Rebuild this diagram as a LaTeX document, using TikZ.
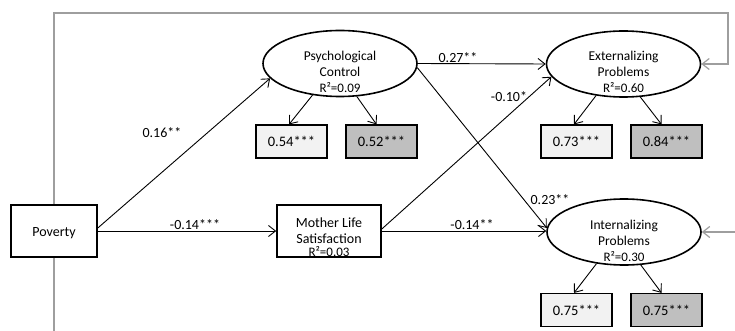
\documentclass[tikz,border=0pt]{standalone}
\usepackage{fontspec}
\setmainfont{Carlito}
\usetikzlibrary{arrows.meta,shapes.geometric,backgrounds}
\begin{document}
\begin{tikzpicture}[x=1pt,y=-1pt,
  lat/.style={ellipse,draw,line width=1.6pt,minimum width=154pt,minimum height=66pt,inner sep=0pt,fill=white},
  obs/.style={rectangle,draw,line width=1.6pt,minimum height=52pt,inner sep=0pt,fill=white},
  ind/.style={rectangle,draw,line width=1.2pt,minimum width=71pt,minimum height=33pt,inner sep=0pt,font=\fontsize{14.5}{16}\selectfont},
  lightind/.style={ind,fill=black!5},
  darkind/.style={ind,fill=black!25},
  tip/.style={-{Straight Barb[length=7pt,width=11pt]}},
  arr/.style={draw,line width=0.9pt,tip},
  coef/.style={font=\fontsize{14}{16}\selectfont,inner sep=0pt},
  ltxt/.style={font=\fontsize{13.5}{15}\selectfont,inner sep=0pt,anchor=base},
  rtxt/.style={font=\fontsize{13}{14}\selectfont,inner sep=0pt,anchor=base},
  grayframe/.style={draw=black!38,line width=1.2pt},
]
\useasboundingbox (0,0) rectangle (735,331);

% observed variables
\node[obs,minimum width=86pt] (pov) at (54,231) {};
\node[coef,anchor=base] (povt) at (54,236) {Poverty};
\node[obs,minimum width=104pt] (mls) at (329,231) {};
\node[coef,anchor=base] (mlst1) at (329,227) {Mother Life};
\node[coef,anchor=base] (mlst2) at (329,243) {Satisfaction};
\node[rtxt] (mlst3) at (329,256) {R²=0.03};

% latent variables
\node[lat] (pc) at (340,63.5) {};
\node[ltxt] (pct1) at (340,60.5) {Psychological};
\node[ltxt] (pct2) at (340,76.5) {Control};
\node[rtxt] (pct3) at (340,92.5) {R²=0.09};

\node[lat] (ext) at (623.5,64) {};
\node[ltxt] (extt1) at (623.5,61) {Externalizing};
\node[ltxt] (extt2) at (623.5,77) {Problems};
\node[rtxt] (extt3) at (623.5,93) {R²=0.60};

\node[lat] (int) at (624,232) {};
\node[ltxt] (intt1) at (624,229) {Internalizing};
\node[ltxt] (intt2) at (624,245) {Problems};
\node[rtxt] (intt3) at (624,261) {R²=0.30};

% indicators
\node[lightind] (pc1) at (291.5,141.5) {0.54***};
\node[darkind]  (pc2) at (381.5,141.5) {0.52***};
\node[lightind] (ex1) at (576.5,141.5) {0.73***};
\node[darkind]  (ex2) at (666.5,141.5) {0.84***};
\node[lightind] (in1) at (576.5,310) {0.75***};
\node[darkind]  (in2) at (666.5,310) {0.75***};

% structural paths
\draw[arr] ([yshift=3pt]pov.east) -- (pc.192);
\draw[arr] (pov.east) -- (mls.west);
\draw[arr] (pc.east) -- (ext.west);
\draw[arr] (pc.357) -- (int.177);
\draw[arr] ([yshift=2pt]mls.east) -- (ext.190);
\draw[arr] (mls.east) -- (int.west |- mls.east);

% measurement paths
\draw[arr] (pc.229) -- ([xshift=-2.5pt]pc1.north);
\draw[arr] (pc.297) -- ([xshift=-5pt]pc2.north);
\draw[arr] (ext.229) -- ([xshift=-2.5pt]ex1.north);
\draw[arr] (ext.297) -- ([xshift=-5pt]ex2.north);
\draw[arr] (int.229) -- ([xshift=-2.5pt]in1.north);
\draw[arr] (int.297) -- ([xshift=-5pt]in2.north);

% coefficients
\node[coef] (c1) at (162,133) {0.16**};
\node[coef] (c2) at (195,225) {-0.14***};
\node[coef] (c3) at (458,58) {0.27**};
\node[coef] (c4) at (509,97) {-0.10*};
\node[coef] (c5) at (550,200) {0.23**};
\node[coef] (c6) at (472,225) {-0.14**};

% gray frame (covariance lines)
\coordinate (fb) at (54,331);
\coordinate (ftl) at (54,13);
\coordinate (ftr) at (728,13);
\coordinate (fr) at (735,232);
\begin{scope}[on background layer]
\draw[grayframe,tip] (fb) -- (ftl) -- (ftr) |- (ext.east);
\end{scope}
\draw[grayframe,tip] (fr) -- (int.east);
\end{tikzpicture}
\end{document}
